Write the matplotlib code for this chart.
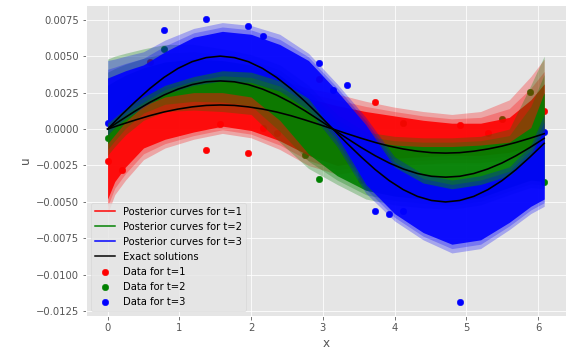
import numpy as np
import matplotlib
matplotlib.use('Agg')
import matplotlib.pyplot as plt
from matplotlib.lines import Line2D

plt.style.use('ggplot')

# -------------------------------
# Solutions exactes
# -------------------------------
x_grid = [0.000, 0.196, 0.393, 0.589, 0.785, 0.982, 1.178, 1.374, 1.571, 1.767,
          1.963, 2.160, 2.356, 2.553, 2.749, 2.945, 3.142, 3.338, 3.534, 3.731,
          3.927, 4.123, 4.320, 4.516, 4.712, 4.909, 5.105, 5.301, 5.498, 5.694,
          5.890, 6.087]

exact_t1 = [0, 0.00032, 0.00063, 0.00092, 0.00117, 0.00137, 0.00152, 0.00162,
            0.00165, 0.00162, 0.00152, 0.00137, 0.00117, 0.00092, 0.00063, 0.00032,
            0, -0.00032, -0.00063, -0.00092, -0.00117, -0.00137, -0.00152, -0.00162,
            -0.00165, -0.00162, -0.00152, -0.00137, -0.00117, -0.00092, -0.00063, -0.00032]
exact_t2 = [0, 0.00064, 0.00126, 0.00183, 0.00233, 0.00274, 0.00305, 0.00324,
            0.0033, 0.00324, 0.00305, 0.00274, 0.00233, 0.00183, 0.00126, 0.00064,
            0, -0.00064, -0.00126, -0.00183, -0.00233, -0.00274, -0.00305, -0.00324,
            -0.0033, -0.00324, -0.00305, -0.00274, -0.00233, -0.00183, -0.00126, -0.00064]
exact_t3 = [0, 0.00098, 0.00191, 0.00278, 0.00354, 0.00416, 0.00462, 0.0049,
            0.005, 0.0049, 0.00462, 0.00416, 0.00354, 0.00278, 0.00191, 0.00098,
            0, -0.00098, -0.00191, -0.00278, -0.00354, -0.00416, -0.00462, -0.0049,
            -0.005, -0.0049, -0.00462, -0.00416, -0.00354, -0.00278, -0.00191, -0.00098]

# -------------------------------
# Données bruitées
# -------------------------------
data_x_t1 = [0.000, 0.196, 0.589, 1.374, 1.571, 1.963, 2.160, 2.356, 2.945, 3.534,
             3.731, 4.909, 5.301, 6.087]
data_u_t1 = [-0.00216, -0.0028, 0.00463, -0.00145, 0.00032, -0.00163, 0.0001, -0.0003,
             0.0034, -0.00347, 0.00186, 0.00025, -0.0003, 0.00126]

data_x_t2 = [0.000, 0.785, 2.749, 2.945, 4.123, 5.498, 5.890, 6.087]
data_u_t2 = [-0.00063, 0.0055, -0.0018, -0.00345, 0.00043, 0.00069, 0.00254, -0.00366]

data_x_t3 = [0.000, 0.785, 1.374, 1.963, 2.160, 2.945, 3.142, 3.338, 3.534, 3.731,
             3.927, 4.123, 4.516, 4.712, 4.909, 6.087]
data_u_t3 = [0.00039, 0.0068, 0.00754, 0.00704, 0.00636, 0.00454, 0.0027, 0.0030,
             -0.0031, -0.00559, -0.00586, -0.0056, -0.0042, -0.00445, -0.01185, -0.00023]

# -------------------------------
# Enveloppes des courbes a posteriori
# -------------------------------
env_x = [0, 0.1, 0.25, 0.5, 0.8, 1.2, 1.6, 2.0, 2.4, 2.8, 3.2, 3.6, 4.0, 4.4,
         4.8, 5.2, 5.6, 5.9, 6.087]

t1_core_lo = [-0.0048, -0.0036, -0.0026, -0.0013, -0.0007, -0.0002, 0.0002, -0.0001, -0.0008, -0.0018,
              -0.0025, -0.0022, -0.0020, -0.0019, -0.0018, -0.0018, -0.0016, -0.0012, -0.0010]
t1_core_hi = [0.0005, 0.0010, 0.0016, 0.0023, 0.0029, 0.0033, 0.0034, 0.0032, 0.0027, 0.0021,
              0.0016, 0.0012, 0.0009, 0.0006, 0.0004, 0.0004, 0.0008, 0.0020, 0.0031]
t1_faint_lo = [-0.0058, -0.0045, -0.0035, -0.0021, -0.0013, -0.0007, -0.0003, -0.0006, -0.0014, -0.0025,
               -0.0031, -0.0028, -0.0025, -0.0024, -0.0023, -0.0023, -0.0021, -0.0017, -0.0015]
t1_faint_hi = [0.0012, 0.0017, 0.0023, 0.0030, 0.0036, 0.0040, 0.0041, 0.0039, 0.0034, 0.0028,
               0.0024, 0.0019, 0.0015, 0.0012, 0.0010, 0.0012, 0.0020, 0.0036, 0.0048]

t2_core_lo = [-0.0010, -0.0004, 0.0005, 0.0016, 0.0022, 0.0025, 0.0025, 0.0022, 0.0006, -0.0017,
              -0.0032, -0.0042, -0.0046, -0.0048, -0.0050, -0.0047, -0.0040, -0.0035, -0.0036]
t2_core_hi = [0.0030, 0.0033, 0.0037, 0.0042, 0.0046, 0.0048, 0.0047, 0.0044, 0.0037, 0.0022,
              0.0003, -0.0008, -0.0011, -0.0012, -0.0012, -0.0011, -0.0009, 0.0001, 0.0025]
t2_faint_lo = [-0.0018, -0.0012, -0.0004, 0.0006, 0.0012, 0.0013, 0.0012, 0.0010, -0.0009, -0.0027,
               -0.0038, -0.0048, -0.0052, -0.0054, -0.0055, -0.0052, -0.0045, -0.0040, -0.0041]
t2_faint_hi = [0.0048, 0.0050, 0.0052, 0.0055, 0.0058, 0.0058, 0.0055, 0.0051, 0.0044, 0.0030,
               0.0010, -0.0002, -0.0005, -0.0006, -0.0006, -0.0005, 0.0000, 0.0030, 0.0050]

t3_core_lo = [0.0004, 0.0008, 0.0014, 0.0022, 0.0030, 0.0036, 0.0040, 0.0039, 0.0033, 0.0021,
              -0.0005, -0.0038, -0.0058, -0.0071, -0.0079, -0.0076, -0.0064, -0.0053, -0.0048]
t3_core_hi = [0.0035, 0.0037, 0.0040, 0.0044, 0.0053, 0.0063, 0.0067, 0.0065, 0.0058, 0.0047,
              0.0026, 0.0003, -0.0026, -0.0037, -0.0041, -0.0038, -0.0032, -0.0018, 0.0000]
t3_faint_lo = [-0.0004, 0.0001, 0.0007, 0.0015, 0.0024, 0.0030, 0.0033, 0.0032, 0.0026, 0.0013,
               -0.0012, -0.0044, -0.0063, -0.0076, -0.0085, -0.0082, -0.0069, -0.0058, -0.0053]
t3_faint_hi = [0.0047, 0.0048, 0.0050, 0.0053, 0.0061, 0.0069, 0.0073, 0.0071, 0.0065, 0.0052,
               0.0031, 0.0008, -0.0019, -0.0031, -0.0035, -0.0032, -0.0026, -0.0011, 0.0010]

# -------------------------------
# Figure
# -------------------------------
fig = plt.figure(figsize=(572 / 72, 355 / 72), dpi=72)
ax = fig.add_axes([0.150, 0.110, 0.8395, 0.876])

# données (sous les courbes)
ax.scatter(data_x_t1, data_u_t1, color='red', s=42, zorder=1.5, label='Data for t=1')
ax.scatter(data_x_t2, data_u_t2, color='green', s=42, zorder=1.5, label='Data for t=2')
ax.scatter(data_x_t3, data_u_t3, color='blue', s=42, zorder=1.5, label='Data for t=3')

bands = [
    ('red', t1_faint_lo, t1_faint_hi, t1_core_lo, t1_core_hi),
    ('green', t2_faint_lo, t2_faint_hi, t2_core_lo, t2_core_hi),
    ('blue', t3_faint_lo, t3_faint_hi, t3_core_lo, t3_core_hi),
]
for color, f_lo, f_hi, c_lo, c_hi in bands:
    f_lo, f_hi, c_lo, c_hi = map(np.array, (f_lo, f_hi, c_lo, c_hi))
    # bord flou : plusieurs couches entre l'enveloppe légère et le coeur
    for w in [0.0, 0.5]:
        ax.fill_between(env_x, f_lo + w * (c_lo - f_lo), f_hi + w * (c_hi - f_hi),
                        color=color, alpha=0.28, linewidth=0, zorder=2)
    ax.fill_between(env_x, c_lo, c_hi, color=color, alpha=0.9, linewidth=0, zorder=2)

for exact in [exact_t1, exact_t2, exact_t3]:
    ax.plot(x_grid, exact, color='black', linewidth=1.6, zorder=3)

ax.set_xlim(-0.304, 6.391)
ax.set_ylim(-0.01282, 0.00851)
ax.set_yticks([-0.0125, -0.01, -0.0075, -0.005, -0.0025, 0, 0.0025, 0.005, 0.0075])
ax.set_xlabel('x')
ax.set_ylabel('u')

handles = [
    Line2D([], [], color='red', label='Posterior curves for t=1'),
    Line2D([], [], color='green', label='Posterior curves for t=2'),
    Line2D([], [], color='blue', label='Posterior curves for t=3'),
    Line2D([], [], color='black', label='Exact solutions'),
]
scat_handles, _ = ax.get_legend_handles_labels()
ax.legend(handles=handles + scat_handles, loc='lower left')

fig.savefig('out.png', dpi=72)
